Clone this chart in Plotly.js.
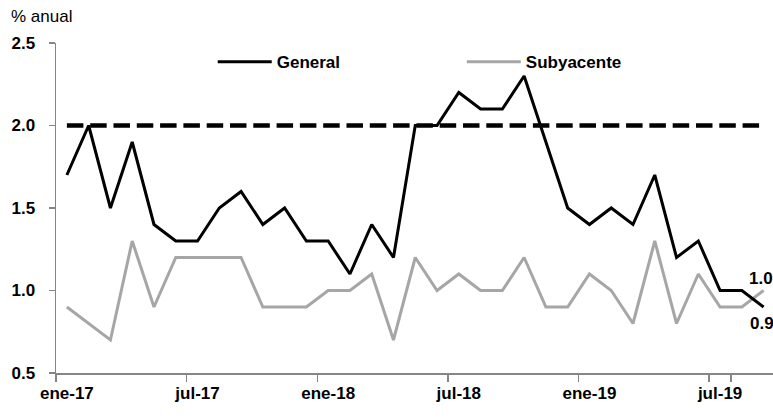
<!DOCTYPE html>
<html>
<head>
<meta charset="utf-8">
<script src="https://cdn.plot.ly/plotly-3.0.1.min.js"></script>
<style>
html,body{margin:0;padding:0;background:#fff;}
#chart{width:773px;height:419px;}
</style>
</head>
<body>
<div id="chart"></div>
<script>
const months = ["ene-17","feb-17","mar-17","abr-17","may-17","jun-17","jul-17","ago-17","sep-17","oct-17","nov-17","dic-17",
  "ene-18","feb-18","mar-18","abr-18","may-18","jun-18","jul-18","ago-18","sep-18","oct-18","nov-18","dic-18",
  "ene-19","feb-19","mar-19","abr-19","may-19","jun-19","jul-19","ago-19","sep-19"];
const general = [1.7,2.0,1.5,1.9,1.4,1.3,1.3,1.5,1.6,1.4,1.5,1.3,
  1.3,1.1,1.4,1.2,2.0,2.0,2.2,2.1,2.1,2.3,1.9,1.5,
  1.4,1.5,1.4,1.7,1.2,1.3,1.0,1.0,0.9];
const subyacente = [0.9,0.8,0.7,1.3,0.9,1.2,1.2,1.2,1.2,0.9,0.9,0.9,
  1.0,1.0,1.1,0.7,1.2,1.0,1.1,1.0,1.0,1.2,0.9,0.9,
  1.1,1.0,0.8,1.3,0.8,1.1,0.9,0.9,1.0];
const meta = months.map(() => 2.0);
const tickLabels = ["ene-17","jul-17","ene-18","jul-18","ene-19","jul-19"];

const FONT = "'Liberation Sans',Arial,sans-serif";
const last = months.length - 1;
const boldFont = (s) => ({family: FONT, size: s, color: '#000', weight: 'bold'});

const traces = [
  {x: months, y: meta, type: 'scatter', mode: 'lines', showlegend: false, hoverinfo: 'skip',
   line: {color: '#000000', width: 4.5, dash: '16.5px,6.8px'}},
  {x: months, y: subyacente, type: 'scatter', mode: 'lines', name: 'Subyacente', legend: 'legend2',
   line: {color: '#a6a6a6', width: 3}},
  {x: months, y: general, type: 'scatter', mode: 'lines', name: 'General', legend: 'legend',
   line: {color: '#000000', width: 3}}
];

const legendBase = {orientation: 'h', y: 0.942, yanchor: 'middle', xanchor: 'left', itemwidth: 54,
  font: boldFont(17), bgcolor: 'rgba(0,0,0,0)', borderwidth: 0};

const layout = {
  width: 773, height: 419,
  margin: {l: 56, r: 0, t: 43, b: 46},
  paper_bgcolor: '#ffffff', plot_bgcolor: '#ffffff',
  font: {family: FONT, size: 15, color: '#000'},
  showlegend: true,
  legend: Object.assign({}, legendBase, {x: 0.2186}),
  legend2: Object.assign({}, legendBase, {x: 0.5660}),
  xaxis: {type: 'category', range: [-0.5, 32.43], tickmode: 'array', tickvals: tickLabels, ticktext: tickLabels,
    tickson: 'boundaries', ticks: 'outside', ticklen: 7, tickcolor: '#868686', tickwidth: 1.5, tickangle: 0,
    ticklabelstandoff: 4,
    showline: true, linecolor: '#868686', linewidth: 1.5, showgrid: false, zeroline: false,
    tickfont: boldFont(17), fixedrange: true},
  yaxis: {range: [0.5, 2.5], tickmode: 'linear', tick0: 0.5, dtick: 0.5, tickformat: '.1f',
    ticks: 'outside', ticklen: 6, tickcolor: '#868686', tickwidth: 1.5, ticklabelstandoff: 10,
    showline: true, linecolor: '#868686', linewidth: 1.5, showgrid: false, zeroline: false,
    tickfont: boldFont(17), fixedrange: true},
  annotations: [
    {x: months[last], y: subyacente[last], xref: 'x', yref: 'y', text: subyacente[last].toFixed(1),
     showarrow: false, xshift: -3, yshift: 12, font: boldFont(17)},
    {x: months[last], y: general[last], xref: 'x', yref: 'y', text: general[last].toFixed(1),
     showarrow: false, xshift: -2, yshift: -16, font: boldFont(17)},
    {x: 0, y: 1, xref: 'paper', yref: 'paper', xanchor: 'left', yanchor: 'middle', xshift: -47, yshift: 27,
     text: '% anual', showarrow: false, font: {family: FONT, size: 17, color: '#000'}}
  ]
};

Plotly.newPlot('chart', traces, layout, {displayModeBar: false, staticPlot: true});
</script>
</body>
</html>
